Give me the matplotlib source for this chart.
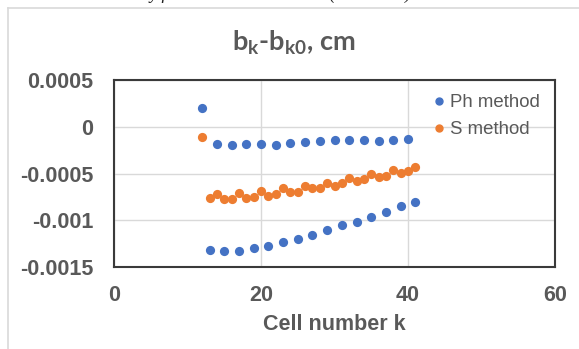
import matplotlib
matplotlib.use("Agg")
import matplotlib.pyplot as plt
from matplotlib.lines import Line2D

# Data
ph_k = [12, 13, 14, 15, 16, 17, 18, 19, 20, 21, 22, 23, 24, 25, 26, 27, 28, 29, 30,
        31, 32, 33, 34, 35, 36, 37, 38, 39, 40, 41]
ph_vals = [0.000204, -0.001318, -0.000184, -0.001329, -0.000192, -0.001329, -0.000184,
           -0.001293, -0.000184, -0.001272, -0.000195, -0.001229, -0.000174, -0.001204,
           -0.000167, -0.001158, -0.000149, -0.001108, -0.000142, -0.001051, -0.000142,
           -0.001015, -0.000142, -0.000962, -0.000149, -0.000912, -0.000142, -0.000844,
           -0.000135, -0.000801]

s_k = [12, 13, 14, 15, 16, 17, 18, 19, 20, 21, 22, 23, 24, 25, 26, 27, 28, 29, 30,
       31, 32, 33, 34, 35, 36, 37, 38, 39, 40, 41]
s_vals = [-0.000106, -0.000759, -0.000722, -0.000776, -0.000776, -0.000705, -0.000759,
          -0.000755, -0.000687, -0.000737, -0.000719, -0.000658, -0.000698, -0.000695,
          -0.000630, -0.000658, -0.000652, -0.000598, -0.000630, -0.000605, -0.000551,
          -0.000580, -0.000562, -0.000505, -0.000541, -0.000527, -0.000463, -0.000495,
          -0.000473, -0.000427]

x_ticks = [0, 20, 40, 60]
y_ticks = [-0.0015, -0.001, -0.0005, 0, 0.0005]
y_tick_labels = ["-0.0015", "-0.001", "-0.0005", "0", "0.0005"]
series_names = ["Ph method", "S method"]
title_text = r"b$_\mathregular{k}$-b$_\mathregular{k0}$, cm"
xlabel_text = "Cell number k"
top_text = "y for both Ph and S data (not tested)"

BLUE = "#4472C4"
ORANGE = "#ED7D31"
GRAY = "#595959"

W, H = 579, 349
fig = plt.figure(figsize=(W / 100, H / 100), dpi=100)

# outer chart frame (left and top edges visible)
fig.add_artist(Line2D([8 / W, 8 / W], [0, 1 - 8 / H], color="#D9D9D9", lw=1.2,
                      transform=fig.transFigure))
fig.add_artist(Line2D([8 / W, 1], [1 - 8 / H, 1 - 8 / H], color="#D9D9D9", lw=1.2,
                      transform=fig.transFigure))

# caption above the chart, clipped by the top edge as in the reference
fig.text(280 / W, 1 + 1 / H, top_text, ha="center", va="baseline",
         fontsize=13, style="italic", family="Liberation Serif", color="#222222")

left, right, top, bottom = 114, 555, 80, 267
ax = fig.add_axes([left / W, 1 - bottom / H, (right - left) / W, (bottom - top) / H])

ax.scatter(ph_k, ph_vals, s=44, color=BLUE, zorder=3, linewidths=0)
ax.scatter(s_k, s_vals, s=44, color=ORANGE, zorder=3, linewidths=0)

ax.set_xlim(0, 60)
ax.set_ylim(-0.0015, 0.0005)
ax.set_xticks(x_ticks)
ax.set_xticklabels([str(t) for t in x_ticks])
ax.set_yticks(y_ticks)
ax.set_yticklabels(y_tick_labels)
ax.grid(True, color="#D9D9D9", lw=1)
ax.set_axisbelow(True)
ax.tick_params(length=0, labelsize=15.5, labelcolor=GRAY)
ax.tick_params(axis="y", pad=15)
ax.tick_params(axis="x", pad=13)
for lab in ax.get_xticklabels() + ax.get_yticklabels():
    lab.set_fontweight("bold")
    lab.set_family("Liberation Sans")
for sp in ax.spines.values():
    sp.set_color("#3A3A3A")
    sp.set_linewidth(1.5)

ax.set_xlabel(xlabel_text, fontsize=15.5, fontweight="bold", color=GRAY,
              family="Liberation Sans", labelpad=6)

fig.text(294 / W, 1 - 43 / H, title_text, ha="center", va="center",
         fontsize=19.5, fontweight="bold", family="Lato", color=GRAY)

legend_handles = [
    Line2D([], [], marker="o", ls="none", color=BLUE, markersize=5),
    Line2D([], [], marker="o", ls="none", color=ORANGE, markersize=5),
]
leg = ax.legend(legend_handles, series_names, loc="upper left",
                bbox_to_anchor=((430 - left) / (right - left), 1 - (94 - top) / (bottom - top)),
                frameon=False, handletextpad=0.1, handlelength=1.0,
                labelspacing=0.55, borderaxespad=0, borderpad=0,
                prop={"family": "Liberation Sans", "size": 13.4})
for t in leg.get_texts():
    t.set_color(GRAY)

fig.savefig("out.png", dpi=100)
